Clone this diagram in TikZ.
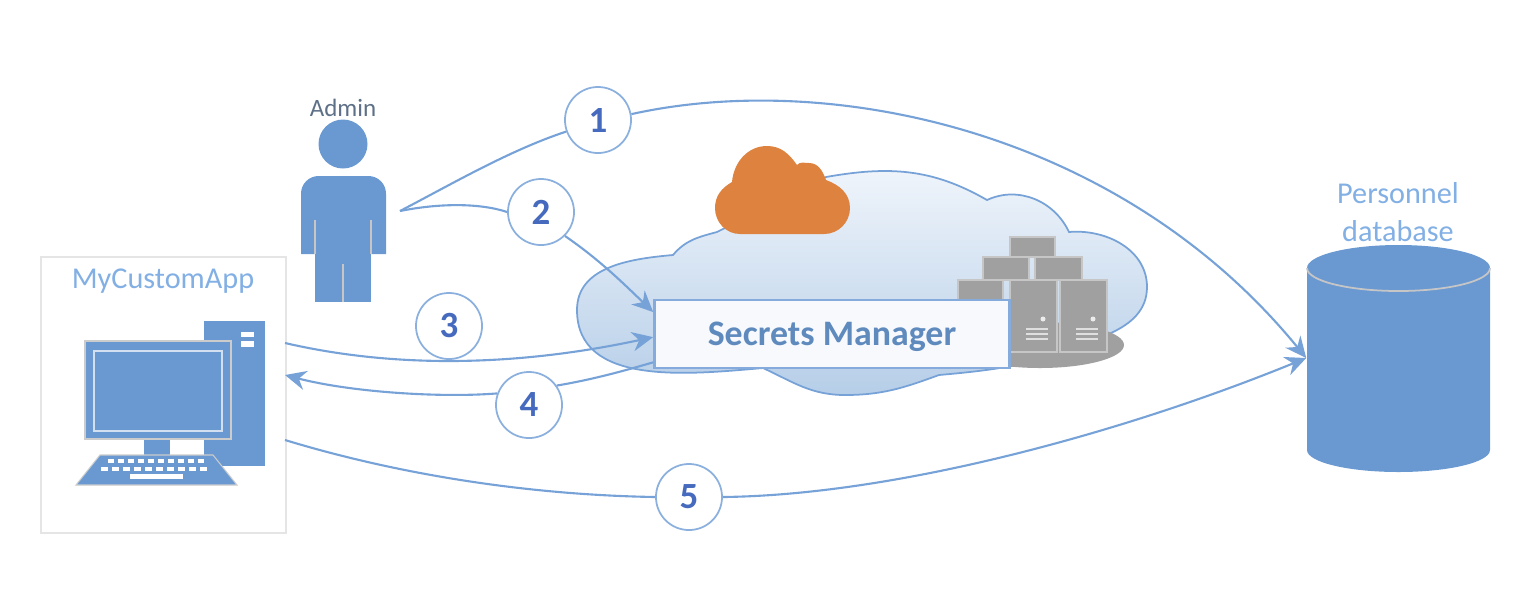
\documentclass[tikz,border=0pt]{standalone}
\usepackage{fontspec}
\setmainfont{Carlito}
\usetikzlibrary{arrows.meta, positioning, calc}
\definecolor{appblue}{RGB}{106,153,210}
\definecolor{linkblue}{RGB}{118,162,216}
\definecolor{numblue}{RGB}{70,106,190}
\definecolor{labelblue}{RGB}{130,175,228}
\definecolor{cloudorange}{RGB}{222,130,64}
\definecolor{servergray}{RGB}{160,160,160}
\definecolor{cloudtop}{RGB}{240,245,251}
\definecolor{cloudmid}{RGB}{205,222,240}
\definecolor{cloudlow}{RGB}{182,206,232}
\definecolor{secretfill}{RGB}{247,249,253}
\tikzset{
    stepnum/.style={circle, draw=linkblue!85, fill=white, minimum size=0.66cm, inner sep=0pt, line width=0.5pt, font=\fontsize{10.5}{12}\selectfont\bfseries, text=numblue},
    appbox/.style={rectangle, draw=gray!20, fill=white, line width=0.7pt, minimum width=2.45cm, minimum height=2.76cm},
    secretbox/.style={rectangle, draw=linkblue!90, fill=secretfill, line width=0.7pt, minimum width=3.55cm, minimum height=0.68cm, text depth=0pt, font=\fontsize{10.2}{12}\selectfont\bfseries, text=appblue!90!black},
    dbbody/.style={rectangle, minimum width=1.83cm, minimum height=2.27cm, inner sep=0pt},
    lbl/.style={font=\fontsize{8.6}{10.6}\selectfont, text=labelblue},
    arr/.style={-{Stealth[length=6pt, width=5.5pt]}, line width=0.6pt, color=linkblue},
    lnk/.style={line width=0.6pt, color=linkblue},
    thinlight/.style={draw=gray!45, line width=0.5pt},
    serverbox/.style={fill=servergray, draw=servergray!60!white, line width=0.4pt}
}
\begin{document}
\begin{tikzpicture}[x=0.01cm, y=-0.01cm]
    \useasboundingbox (0,0) rectangle (1514,602);
    % big cloud
    \shade[top color=cloudtop, middle color=cloudmid, bottom color=cloudlow, draw=linkblue, line width=0.5pt]
        (673,255) to[out=50,in=195] (717,232) -- (826,177) to[out=10,in=150] (987,200)
        to[out=25,in=115] (1069,232) to[out=5,in=90] (1147,287) to[out=-90,in=25] (1111,333)
        to[out=205,in=5] (939,375) to[out=200,in=0] (845,395) to[out=180,in=-25] (763,368)
        to[out=185,in=-90] (577,310) to[out=90,in=185] cycle;
    % orange cloud
    \fill[cloudorange] (797,165) to[out=125,in=0] (767,146) to[out=180,in=85] (732,182)
        to[out=210,in=90] (715,208) to[out=-90,in=180] (740,234) -- (824,234)
        to[out=0,in=-90] (850,208) to[out=90,in=-20] (826,180) to[out=110,in=0] (809,163)
        to[out=180,in=50] cycle;
    % servers
    \fill[servergray] (1040,345) ellipse (84 and 23);
    \draw[serverbox] (1010,237) rectangle (1055,257);
    \draw[serverbox] (983,257) rectangle (1029,280);
    \draw[serverbox] (1035,257) rectangle (1082,280);
    \draw[serverbox] (958,280) rectangle (1003,320);
    \foreach \sx in {1010,1060} {
        \draw[serverbox] (\sx,280) rectangle ({\sx+47},352);
        \fill[white!85!gray] ({\sx+33},319) circle (2.5);
        \foreach \sy in {328,333,338} {
            \fill[white!75!gray] ({\sx+16},\sy) rectangle ({\sx+38},{\sy+2});
        }
    }
    \node[secretbox] (sm) at (832,334) {Secrets Manager};
    % computer
    \node[appbox] (app) at (163.5,395) {};
    \node[lbl] (applbl) at (163,281) {MyCustomApp};
    \fill[appblue] (204,321) rectangle (265,466);
    \fill[white] (241,332) rectangle (254,337);
    \fill[white] (241,341) rectangle (254,347);
    \fill[appblue] (144,439) rectangle (170,456);
    \draw[fill=appblue, draw=gray!40, line width=0.4pt] (85,341) rectangle (231,439);
    \draw[draw=white!70!appblue, line width=0.5pt] (94,351) rectangle (222,431);
    \draw[fill=appblue, draw=gray!40, line width=0.3pt] (100,455) -- (213,455) -- (237,485) -- (76,485) -- cycle;
    \foreach \kx in {0,...,9} {
        \fill[white] ({108+\kx*10},459) rectangle ({114+\kx*10},463);
        \fill[white] ({101+\kx*11},467) rectangle ({108+\kx*11},471);
    }
    \fill[white] (130,474) rectangle (183,479);
    % admin
    \node[font=\fontsize{7.1}{9}\selectfont, text=gray!50!appblue!80!black] (adminlbl) at (343,108) {Admin};
    \fill[appblue] (343,144) circle (24.5);
    \fill[appblue] (301,254) {[rounded corners=5pt] -- (301,176) -- (386,176)} -- (386,254) -- cycle;
    \fill[appblue] (315,250) rectangle (371,302);
    \draw[thinlight] (315,220) -- (315,254) (371,220) -- (371,254) (343,264) -- (343,302);
    % database
    \node[dbbody] (db) at (1398.5,358) {};
    \fill[appblue] (1307,268) arc[start angle=180, end angle=360, x radius=91.5, y radius=23]
        -- (1490,450) arc[start angle=0, end angle=180, x radius=91.5, y radius=22] -- cycle;
    \draw[thinlight] (1307,268) arc[start angle=180, end angle=0, x radius=91.5, y radius=23];
    \node[lbl, align=center] (dblbl) at (1398,212) {Personnel\\database};
    % connectors
    \coordinate (adminout) at (400,211);
    \coordinate (appout) at (285,343);
    \coordinate (appin) at (285,375);
    \coordinate (appdb) at (285,440);
    \node[stepnum] (c1) at (598,120) {1};
    \node[stepnum] (c2) at (541,212) {2};
    \node[stepnum] (c3) at (449,326) {3};
    \node[stepnum] (c4) at (529,405) {4};
    \node[stepnum] (c5) at (689,497) {5};
    \draw[lnk] (adminout) .. controls (450,185) and (510,150) .. (c1.200);
    \draw[arr] (c1.10) .. controls (830,70) and (1120,130) .. (db.west);
    \draw[lnk] (adminout) .. controls (440,203) and (480,203) .. (c2.180);
    \draw[arr] (c2.-45) .. controls (600,260) and (625,285) .. (sm.173);
    \draw[arr] (appout) .. controls (380,365) and (500,370) .. (sm.181);
    \draw[lnk] (sm.189) .. controls (620,372) and (590,380) .. (c4.35);
    \draw[arr] (c4.160) .. controls (440,398) and (350,392) .. (appin);
    \draw[lnk] (appdb) .. controls (400,475) and (530,495) .. (c5.west);
    \draw[arr] (c5.east) .. controls (900,495) and (1130,430) .. (db.west);
\end{tikzpicture}
\end{document}
